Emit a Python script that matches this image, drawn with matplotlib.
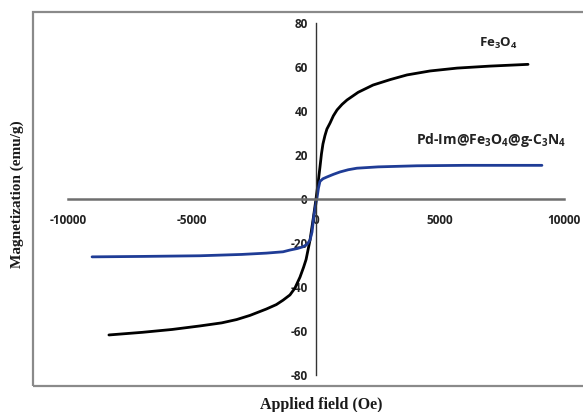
import matplotlib
matplotlib.use("Agg")
import matplotlib.pyplot as plt
from matplotlib.patches import Rectangle

plt.rcParams["axes.unicode_minus"] = False
plt.rcParams["mathtext.fontset"] = "custom"
plt.rcParams["mathtext.rm"] = "Open Sans:bold"
plt.rcParams["mathtext.bf"] = "Open Sans:bold"

# Fe3O4 curve (black)
fe_field = [-8350, -7000, -5800, -4680, -3800, -3200, -2660, -2000, -1600, -1330, -1050, -850,
            -645, -500, -400, -240, -100, 0, 80, 160, 220, 280, 360, 440, 565, 700, 850,
            1050, 1250, 1700, 2300, 3000, 3670, 4600, 5690, 7000, 8550]
fe_mag = [-61.8, -60.6, -59.3, -57.7, -56.3, -54.8, -52.9, -50.0, -48.0, -46.0, -43.6, -40.5,
          -35.5, -31.0, -27.5, -18.6, -8.0, 0.0, 7.0, 14.5, 20.5, 25.0, 28.8, 31.8, 34.5,
          37.8, 40.5, 43.0, 45.0, 48.5, 51.8, 54.3, 56.4, 58.2, 59.5, 60.4, 61.2]

# Pd-Im@Fe3O4@g-C3N4 curve (blue)
pd_field = [-9030, -7000, -4680, -3000, -2000, -1330, -1050, -750, -520, -350, -240,
            -160, -90, 0, 40, 100, 160, 280, 440, 700, 970, 1300, 1650, 2500, 4070,
            6000, 9110]
pd_mag = [-26.3, -26.1, -25.8, -25.2, -24.6, -24.0, -23.2, -22.5, -21.7, -20.5, -18.6,
          -15.0, -8.0, -2.0, 0.5, 5.0, 8.0, 9.2, 10.0, 11.2, 12.3, 13.3, 14.0, 14.6, 15.1,
          15.3, 15.3]

x_ticks = [-10000, -5000, 0, 5000, 10000]
y_ticks = [-80, -60, -40, -20, 0, 20, 40, 60, 80]

W, H = 583, 412
fig = plt.figure(figsize=(W / 100, H / 100), dpi=100)
fig.patch.set_facecolor("white")

# outer chart frame
fig.patches.append(Rectangle((33 / W, 1 - 386 / H), 560 / W, 374 / H,
                             transform=fig.transFigure, fill=False,
                             edgecolor="#8a8a8a", linewidth=1.6))

ax = fig.add_axes([68 / W, 1 - 375 / H, 496 / W, 352 / H])
ax.set_facecolor("none")

ax.plot(fe_field, fe_mag, color="black", lw=2, solid_capstyle="round")
ax.plot(pd_field, pd_mag, color="#1f3c96", lw=2, solid_capstyle="round")

ax.set_xlim(-10000, 10000)
ax.set_ylim(-80, 80)
ax.set_xticks(x_ticks)
ax.set_yticks(y_ticks)

for s in ["top", "right"]:
    ax.spines[s].set_visible(False)
ax.spines["left"].set_position(("data", 0))
ax.spines["bottom"].set_position(("data", 0))
ax.spines["left"].set_color("#333333")
ax.spines["left"].set_linewidth(1.0)
ax.spines["bottom"].set_color("#6e6e6e")
ax.spines["bottom"].set_linewidth(1.8)

ax.tick_params(axis="x", length=0, pad=11, colors="#222222")
ax.tick_params(axis="y", length=0, pad=6, colors="#222222")
for lab in ax.get_xticklabels() + ax.get_yticklabels():
    lab.set_fontfamily("Open Sans")
    lab.set_fontweight("bold")
    lab.set_fontsize(8.5)

ax.text(7340, 70.9, r"Fe$_\mathbf{3}$O$_\mathbf{4}$", ha="center", va="center",
        fontsize=9.5, fontweight="bold", family="Open Sans", color="#222222")
ax.text(7060, 26.8, r"Pd-Im@Fe$_\mathbf{3}$O$_\mathbf{4}$@g-C$_\mathbf{3}$N$_\mathbf{4}$",
        ha="center", va="center", fontsize=10, fontweight="bold",
        family="Open Sans", color="#222222")

fig.text(17 / W, 1 - 194 / H, "Magnetization (emu/g)", rotation=90,
         ha="center", va="center", fontsize=11, fontweight="bold",
         family="Liberation Serif", color="#1a1a1a")
fig.text(321 / W, 1 - 405 / H, "Applied field (Oe)", ha="center", va="center",
         fontsize=11.5, fontweight="bold", family="Liberation Serif", color="#1a1a1a")

fig.savefig("out.png", dpi=100)
